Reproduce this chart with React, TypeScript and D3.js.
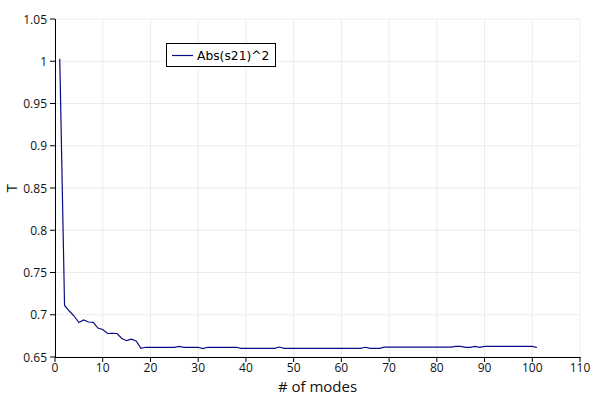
import React from "react";
import * as d3 from "d3";

const tValues: number[] = [
  1.003, 0.711, 0.7044, 0.6985, 0.6908, 0.6938, 0.6914, 0.691, 0.6843, 0.6825,
  0.6778, 0.678, 0.6778, 0.6719, 0.6693, 0.671, 0.669, 0.6603, 0.6615, 0.6615,
  0.6615, 0.6615, 0.6615, 0.6615, 0.6615, 0.6625, 0.6615, 0.6615, 0.6615, 0.6615,
  0.66, 0.6615, 0.6615, 0.6615, 0.6615, 0.6615, 0.6615, 0.6615, 0.6603, 0.6603,
  0.6603, 0.6603, 0.6603, 0.6603, 0.6603, 0.6603, 0.6618, 0.6603, 0.6603, 0.6603,
  0.6603, 0.6603, 0.6603, 0.6603, 0.6603, 0.6603, 0.6603, 0.6603, 0.6603, 0.6603,
  0.6603, 0.6603, 0.6603, 0.6603, 0.6615, 0.6603, 0.6603, 0.6603, 0.6617, 0.6617,
  0.6617, 0.6617, 0.6617, 0.6617, 0.6617, 0.6617, 0.6617, 0.6617, 0.6617, 0.6617,
  0.6617, 0.6617, 0.6617, 0.6626, 0.6626, 0.6615, 0.6615, 0.6626, 0.6615, 0.6626,
  0.6626, 0.6626, 0.6626, 0.6626, 0.6626, 0.6626, 0.6626, 0.6626, 0.6626, 0.6626,
  0.6612,
];
const modes: number[] = tValues.map((_, i) => i + 1);

const xTicks = [0, 10, 20, 30, 40, 50, 60, 70, 80, 90, 100, 110];
const yTicks = [0.65, 0.7, 0.75, 0.8, 0.85, 0.9, 0.95, 1, 1.05];
const seriesName = "Abs(s21)^2";
const xTitle = "# of modes";
const yTitle = "T";

const W = 600;
const H = 400;
const M = { left: 55, right: 20, top: 19, bottom: 43 };
const LINE = "#0b0b86";
const FONT = "'Open Sans', sans-serif";

export default function App() {
  const x = d3.scaleLinear().domain([0, 110]).range([M.left, W - M.right]);
  const y = d3.scaleLinear().domain([0.65, 1.05]).range([H - M.bottom, M.top]);
  const line = d3
    .line<number>()
    .x((_, i) => x(modes[i]))
    .y((d) => y(d));
  const fmt = (v: number) => String(+v.toFixed(2));
  const x0 = M.left;
  const y0 = H - M.bottom;

  return (
    <svg
      width={W}
      height={H}
      style={{ position: "fixed", left: 0, top: 0, background: "#fff" }}
    >
      <rect x={0} y={0} width={W} height={H} fill="#fff" />
      {/* grid */}
      {xTicks.map((t) => (
        <line key={"gx" + t} x1={x(t)} x2={x(t)} y1={M.top} y2={y0} stroke="#ececec" strokeWidth={1} />
      ))}
      {yTicks.map((t) => (
        <line key={"gy" + t} x1={x0} x2={W - M.right} y1={y(t)} y2={y(t)} stroke="#ececec" strokeWidth={1} />
      ))}
      {/* data */}
      <path d={line(tValues) || ""} fill="none" stroke={LINE} strokeWidth={1.2} />
      {/* axes */}
      <line x1={x0 + 0.5} x2={x0 + 0.5} y1={M.top} y2={y0} stroke="#000" strokeWidth={1} />
      <line x1={x0} x2={W - M.right + 0.5} y1={y0 + 0.5} y2={y0 + 0.5} stroke="#000" strokeWidth={1} />
      {xTicks.map((t) => (
        <g key={"tx" + t}>
          <line x1={x(t)} x2={x(t)} y1={y0} y2={y0 + 5} stroke="#000" />
          <text x={x(t)} y={y0 + 15} textAnchor="middle" fontFamily={FONT} fontSize={12} fill="#111">
            {t}
          </text>
        </g>
      ))}
      {yTicks.map((t) => (
        <g key={"ty" + t}>
          <line x1={x0 - 5} x2={x0} y1={y(t)} y2={y(t)} stroke="#000" />
          <text x={x0 - 8} y={y(t) + 4.5} textAnchor="end" fontFamily={FONT} fontSize={12} fill="#111">
            {fmt(t)}
          </text>
        </g>
      ))}
      {/* titles */}
      <text x={(x0 + W - M.right) / 2} y={392} textAnchor="middle" fontFamily={FONT} fontSize={15} fill="#111">
        {xTitle}
      </text>
      <text
        transform={`translate(11,${(M.top + y0) / 2}) rotate(-90)`}
        textAnchor="middle"
        dominantBaseline="central"
        fontFamily={FONT}
        fontSize={15}
        fill="#111"
      >
        {yTitle}
      </text>
      {/* legend */}
      <rect x={166.5} y={43.5} width={109} height={23} fill="#fff" stroke="#000" strokeWidth={1} />
      <line x1={172} x2={193} y1={55.5} y2={55.5} stroke={LINE} strokeWidth={1.2} />
      <text x={197} y={59.5} fontFamily="'DejaVu Sans', sans-serif" fontSize={12.3} fill="#000">
        {seriesName}
      </text>
    </svg>
  );
}
